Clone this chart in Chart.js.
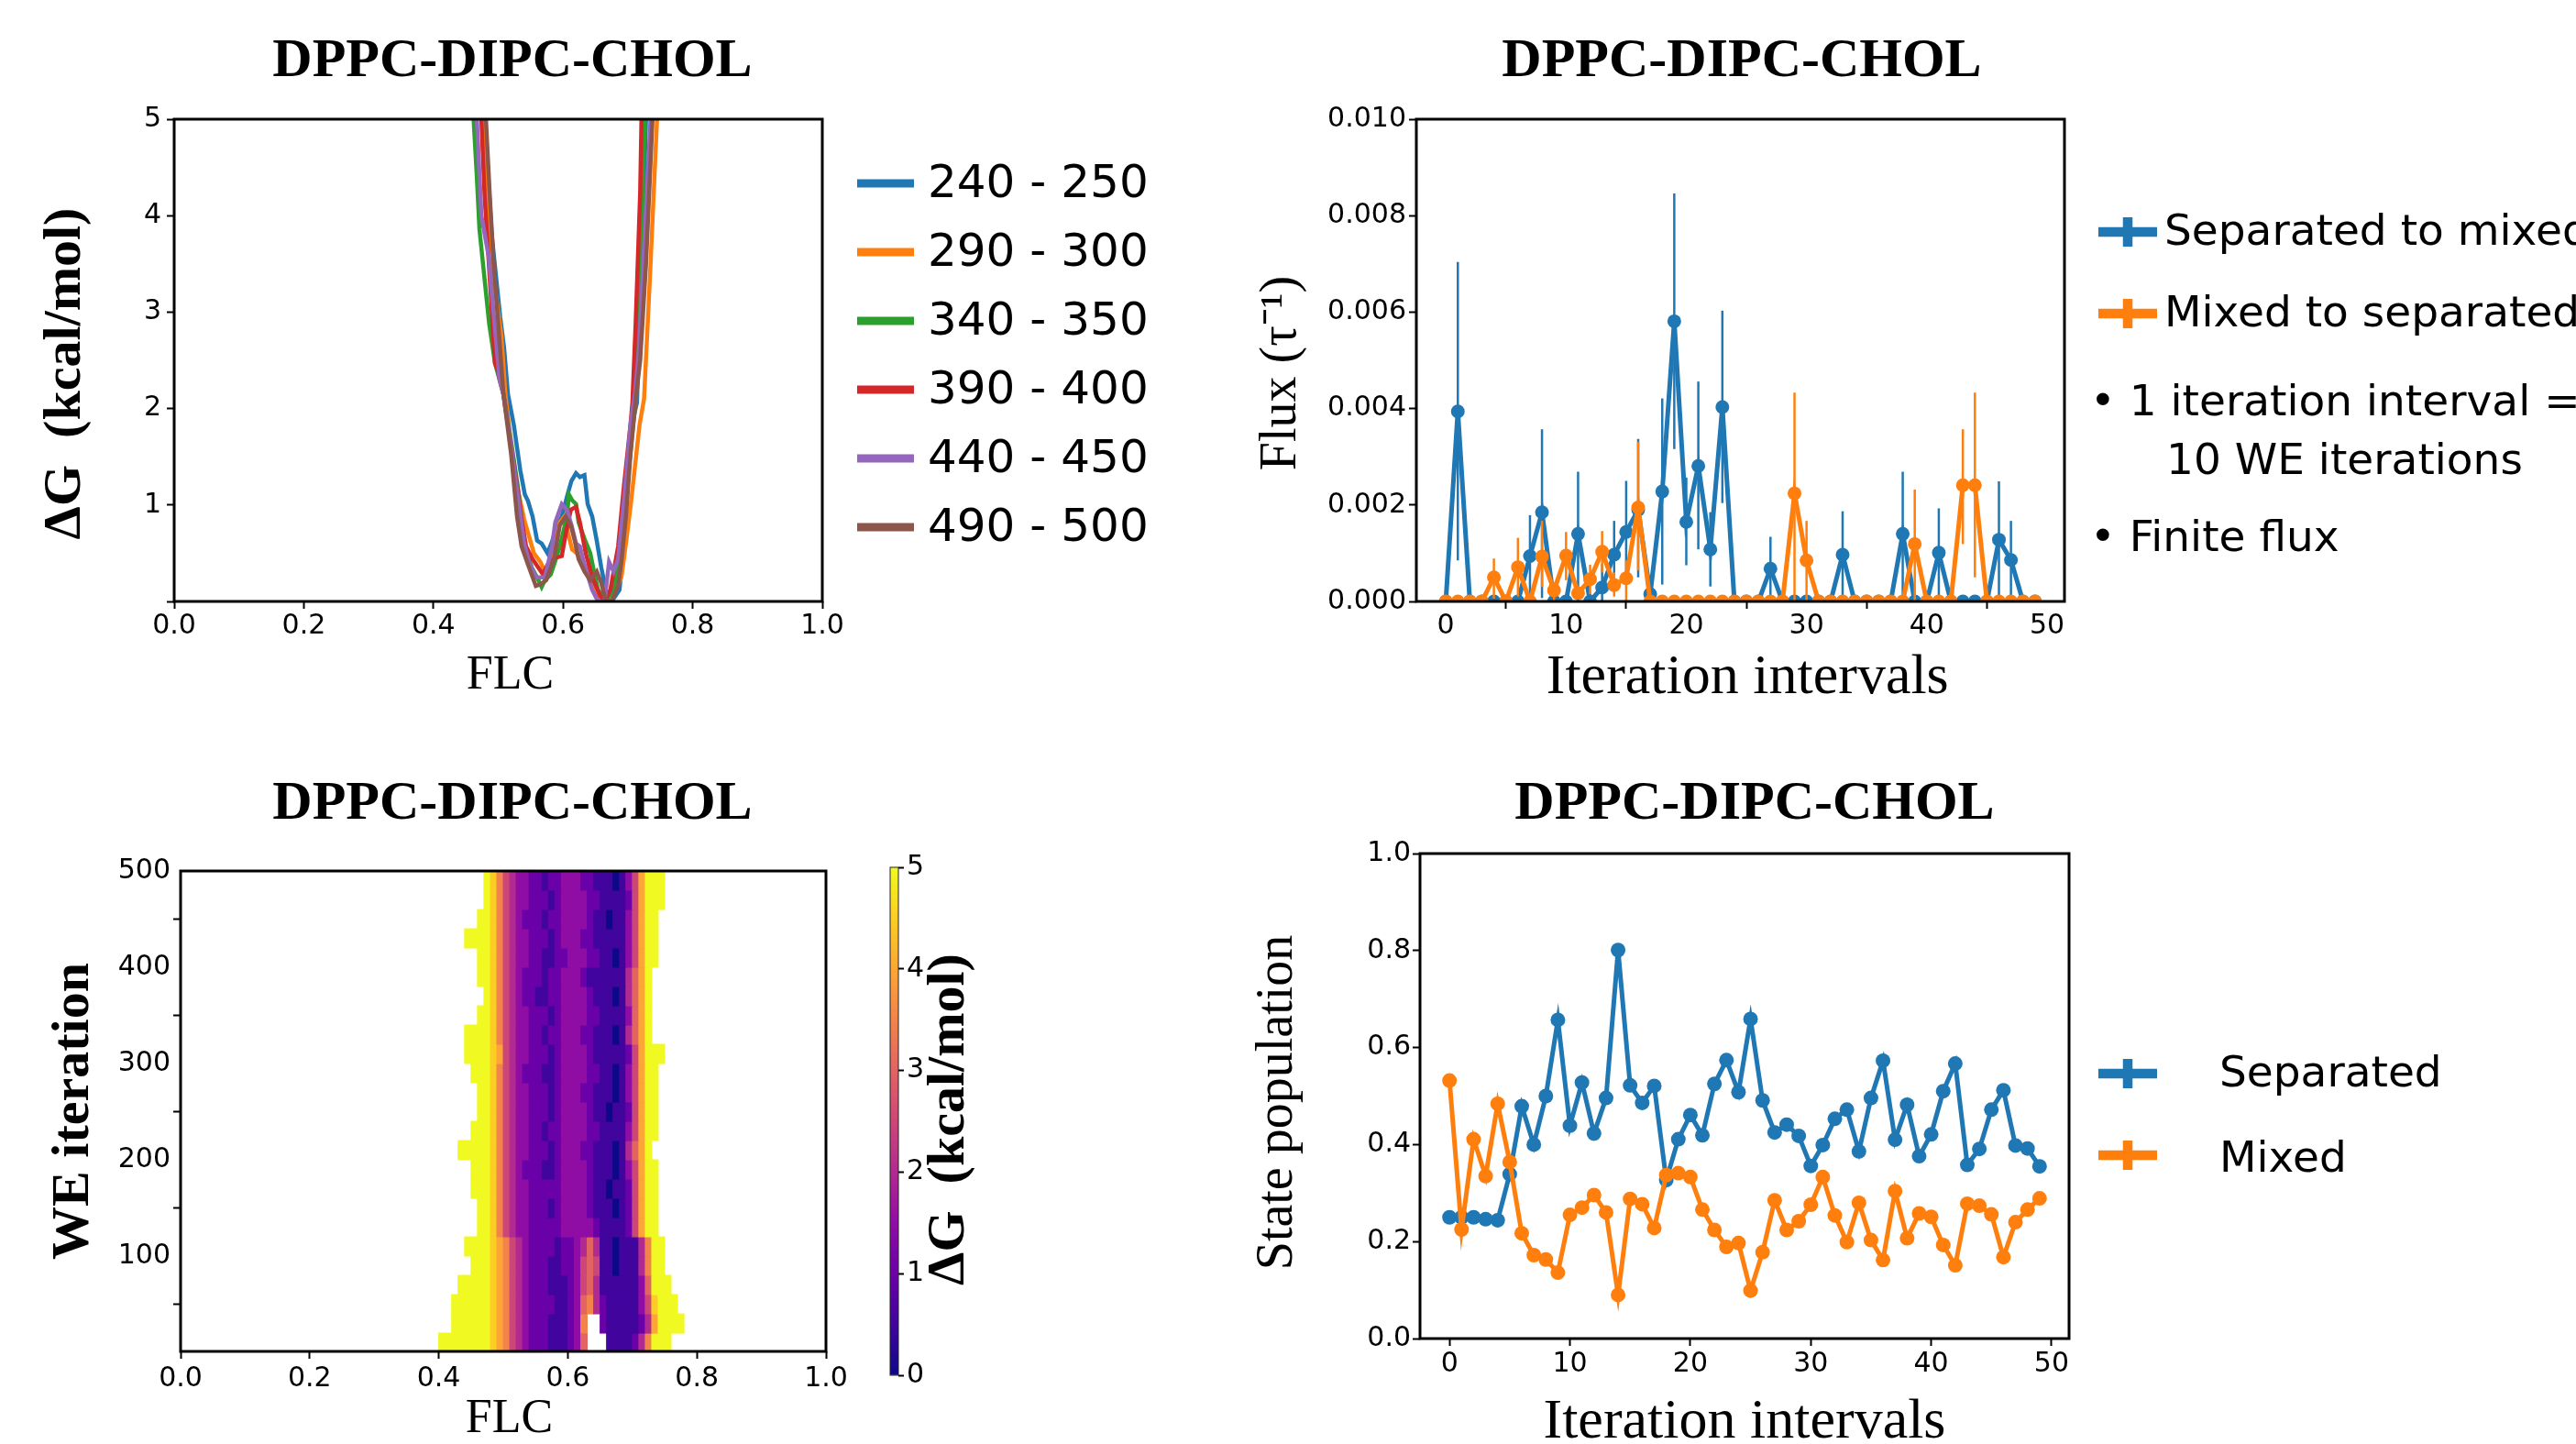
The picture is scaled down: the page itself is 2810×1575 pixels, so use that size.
<!DOCTYPE html>
<html>
<head>
<meta charset="utf-8">
<script src="https://cdn.jsdelivr.net/npm/chart.js@4.4.1/dist/chart.umd.min.js"></script>
<style>
  html, body { margin: 0; padding: 0; background: #fff; }
  body { width: 2810px; height: 1575px; position: relative; overflow: hidden; }
  canvas { position: absolute; }
</style>
</head>
<body>
<canvas id="profile" width="1405" height="787" style="left:0;top:0"></canvas>
<canvas id="flux" width="1510" height="787" style="left:1300px;top:0"></canvas>
<canvas id="heat" width="940" height="820" style="left:0;top:787px"></canvas>
<canvas id="cbar" width="320" height="820" style="left:900px;top:787px"></canvas>
<canvas id="pop" width="1510" height="820" style="left:1300px;top:787px"></canvas>
<script>
const figTitle = 'DPPC-DIPC-CHOL';

// free energy profiles, one curve per WE iteration window
const windowLabels = ['240 - 250', '290 - 300', '340 - 350', '390 - 400', '440 - 450', '490 - 500'];
const flc240 = [0.479, 0.490, 0.503, 0.509, 0.515, 0.524, 0.534, 0.541, 0.546, 0.553, 0.560, 0.567, 0.576, 0.583, 0.591, 0.598, 0.607, 0.613, 0.620, 0.626, 0.633, 0.638, 0.645, 0.652, 0.659, 0.666, 0.675, 0.687, 0.694, 0.699, 0.706, 0.714, 0.721, 0.728];
const dg240 = [5.0, 3.80, 2.95, 2.63, 2.15, 1.83, 1.36, 1.11, 1.04, 0.88, 0.63, 0.60, 0.50, 0.62, 0.79, 0.88, 1.11, 1.25, 1.33, 1.29, 1.31, 1.01, 0.88, 0.63, 0.35, 0.12, 0.0, 0.12, 0.57, 1.20, 1.83, 2.06, 3.40, 5.0];
const flc290 = [0.476, 0.483, 0.490, 0.498, 0.505, 0.511, 0.520, 0.529, 0.540, 0.555, 0.565, 0.572, 0.579, 0.586, 0.595, 0.602, 0.608, 0.614, 0.621, 0.633, 0.647, 0.659, 0.673, 0.690, 0.697, 0.704, 0.711, 0.718, 0.725, 0.735, 0.745];
const dg290 = [5.0, 4.2, 3.5, 3.1, 2.75, 2.15, 1.6, 1.2, 0.85, 0.50, 0.41, 0.31, 0.40, 0.57, 0.82, 0.88, 0.70, 0.54, 0.50, 0.38, 0.19, 0.0, 0.0, 0.25, 0.60, 0.98, 1.40, 1.83, 2.10, 3.50, 5.0];
const flc340 = [0.462, 0.467, 0.471, 0.478, 0.486, 0.495, 0.508, 0.520, 0.530, 0.541, 0.552, 0.562, 0.567, 0.572, 0.581, 0.588, 0.595, 0.606, 0.609, 0.614, 0.620, 0.624, 0.633, 0.642, 0.648, 0.654, 0.666, 0.678, 0.690, 0.699, 0.708, 0.712, 0.719, 0.726];
const dg340 = [5.0, 4.4, 3.86, 3.4, 2.88, 2.47, 2.15, 1.65, 1.2, 0.57, 0.35, 0.22, 0.15, 0.22, 0.28, 0.42, 0.57, 0.88, 1.11, 1.05, 1.01, 0.82, 0.65, 0.50, 0.30, 0.12, 0.0, 0.12, 0.57, 1.2, 1.83, 2.06, 3.2, 5.0];
const flc390 = [0.474, 0.479, 0.486, 0.495, 0.499, 0.508, 0.518, 0.529, 0.536, 0.543, 0.552, 0.562, 0.569, 0.576, 0.587, 0.598, 0.605, 0.612, 0.620, 0.626, 0.635, 0.645, 0.657, 0.664, 0.673, 0.685, 0.694, 0.704, 0.707, 0.712, 0.719, 0.721];
const dg390 = [5.0, 4.2, 3.45, 2.47, 2.4, 2.15, 1.7, 1.2, 0.85, 0.57, 0.45, 0.35, 0.28, 0.38, 0.45, 0.47, 0.73, 0.95, 0.98, 0.82, 0.50, 0.25, 0.06, 0.0, 0.12, 0.57, 1.2, 1.83, 2.06, 2.88, 4.24, 5.0];
const flc440 = [0.467, 0.474, 0.486, 0.490, 0.502, 0.508, 0.520, 0.530, 0.540, 0.548, 0.558, 0.572, 0.583, 0.588, 0.598, 0.606, 0.613, 0.620, 0.626, 0.633, 0.645, 0.654, 0.664, 0.671, 0.678, 0.685, 0.694, 0.704, 0.711, 0.717, 0.735];
const dg440 = [5.0, 4.0, 3.55, 3.2, 2.3, 2.15, 1.6, 1.1, 0.6, 0.4, 0.25, 0.25, 0.57, 0.82, 1.01, 0.95, 0.79, 0.60, 0.57, 0.38, 0.12, 0.0, 0.0, 0.41, 0.31, 0.44, 1.04, 1.83, 2.15, 2.6, 5.0];
const flc490 = [0.481, 0.487, 0.493, 0.500, 0.508, 0.520, 0.529, 0.536, 0.546, 0.558, 0.566, 0.574, 0.586, 0.595, 0.604, 0.612, 0.618, 0.624, 0.633, 0.642, 0.652, 0.659, 0.666, 0.675, 0.685, 0.690, 0.697, 0.704, 0.713, 0.719, 0.728, 0.738];
const dg490 = [5.0, 4.2, 3.5, 2.88, 2.15, 1.52, 0.88, 0.57, 0.38, 0.16, 0.18, 0.22, 0.44, 0.79, 0.88, 0.79, 0.63, 0.44, 0.31, 0.22, 0.31, 0.19, 0.0, 0.0, 0.16, 0.41, 0.88, 1.52, 2.15, 2.5, 3.5, 5.0];

// flux between states per iteration interval, with error bar ends
const intervals = [0, 1, 2, 3, 4, 5, 6, 7, 8, 9, 10, 11, 12, 13, 14, 15, 16, 17, 18, 19, 20, 21, 22, 23, 24,
  25, 26, 27, 28, 29, 30, 31, 32, 33, 34, 35, 36, 37, 38, 39, 40, 41, 42, 43, 44, 45, 46, 47, 48, 49];
const fluxLegend = ['Separated to mixed', 'Mixed to separated'];
const fluxSepToMix = [0, 0.00394, 0, 0, 0, 0, 0, 0.00094, 0.00185, 0,
  0, 0.00140, 0, 0.00029, 0.00097, 0.00144, 0.00190, 0.00015, 0.00228, 0.00581,
  0.00165, 0.00281, 0.00108, 0.00403, 0, 0, 0, 0.00068, 0, 0,
  0, 0, 0, 0.00097, 0, 0, 0, 0, 0.00140, 0,
  0, 0.00101, 0, 0, 0, 0, 0.00128, 0.00086, 0, 0];
const sepToMixLo = [null, 0.00085, null, null, null, null, null, 0.00010, 0.00007, null,
  null, 0, null, 0, 0.00020, 0.00040, 0.00050, null, 0.00035, 0.00316,
  0.00075, 0.00108, 0.00031, 0.00204, null, null, null, 0, null, null,
  null, null, null, 0, null, null, null, null, 0, null,
  null, 0, null, null, null, null, 0, 0, null, null];
const sepToMixHi = [null, 0.00704, null, null, null, null, null, 0.00179, 0.00357, null,
  null, 0.00269, null, 0.00078, 0.00167, 0.00250, 0.00337, null, 0.00421, 0.00846,
  0.00257, 0.00456, 0.00185, 0.00603, null, null, null, 0.00134, null, null,
  null, null, null, 0.00187, null, null, null, null, 0.00269, null,
  null, 0.00193, null, null, null, null, 0.00249, 0.00167, null, null];
const fluxMixToSep = [0, 0, 0, 0, 0.00050, 0, 0.00071, 0, 0.00093, 0.00023,
  0.00095, 0.00017, 0.00046, 0.00103, 0.00034, 0.00048, 0.00195, 0, 0, 0,
  0, 0, 0, 0, 0, 0, 0, 0, 0, 0.00224,
  0.00085, 0, 0, 0, 0, 0, 0, 0, 0, 0.00119,
  0, 0, 0, 0.00241, 0.00241, 0, 0, 0, 0, 0];
const mixToSepLo = [null, null, null, null, 0.00006, null, 0.00010, null, 0.00030, 0,
  0.00044, null, 0.00015, 0.00060, 0.00010, 0, 0.00064, null, null, null,
  null, null, null, null, null, null, null, null, null, 0,
  0, null, null, null, null, null, null, null, null, 0,
  null, null, null, 0.00119, 0.00050, null, null, null, null, null];
const mixToSepHi = [null, null, null, null, 0.00089, null, 0.00132, null, 0.00167, 0.00040,
  0.00144, null, 0.00076, 0.00146, 0.00060, 0.00085, 0.00331, null, null, null,
  null, null, null, null, null, null, null, null, null, 0.00433,
  0.00167, null, null, null, null, null, null, null, null, 0.00232,
  null, null, null, 0.00357, 0.00433, null, null, null, null, null];
const fluxNotes = ['\u2022 1 iteration interval =', '10 WE iterations', '\u2022 Finite flux'];

// state populations per iteration interval
const popLegend = ['Separated', 'Mixed'];
const popSeparated = [0.250, 0.250, 0.250, 0.246, 0.244, 0.339, 0.479, 0.400, 0.500, 0.657,
  0.439, 0.528, 0.423, 0.496, 0.801, 0.522, 0.486, 0.521, 0.327, 0.411,
  0.461, 0.419, 0.525, 0.574, 0.508, 0.659, 0.491, 0.425, 0.441, 0.418,
  0.356, 0.399, 0.453, 0.472, 0.386, 0.496, 0.573, 0.410, 0.482, 0.376,
  0.421, 0.510, 0.567, 0.358, 0.391, 0.472, 0.512, 0.398, 0.392, 0.355];
const popMixed = [0.532, 0.225, 0.411, 0.335, 0.484, 0.364, 0.217, 0.172, 0.163, 0.136,
  0.255, 0.270, 0.296, 0.260, 0.090, 0.288, 0.277, 0.228, 0.337, 0.341,
  0.333, 0.266, 0.224, 0.189, 0.197, 0.099, 0.178, 0.285, 0.224, 0.242,
  0.276, 0.333, 0.254, 0.199, 0.280, 0.203, 0.162, 0.304, 0.207, 0.258,
  0.251, 0.193, 0.151, 0.278, 0.274, 0.256, 0.168, 0.240, 0.266, 0.289];

// dG map: rows of 20 WE iterations (bottom first), columns of 0.01 FLC from 0.39
// '.' = no sampling, digit d = d*0.5 kcal/mol, 'X' = 5 or more
const flcBinStart = 0.39;
const flcBinWidth = 0.01;
const iterBinStart = [0, 20, 40, 60, 80, 100, 120, 140, 160, 180, 200, 220, 240,
  260, 280, 300, 320, 340, 360, 380, 400, 420, 440, 460, 480];
const iterBinWidth = 20;
const dgRows = [
  '.XXXXXXXX9 8754322211 1236...111 1247XXX...',
  '...XXXXXX9 8754322211 1237..2111 11248XXXX.',
  '...XXXXXX9 8754322221 1236742111 11359XXX..',
  '....XXXXX9 8754322211 1235641111 1136XXX...',
  '......XXX9 8754322211 2235651101 1147XX....',
  '.....XXXX9 8754322221 2234641101 1147XX....',
  '.......XX9 7543322222 3333321111 258XX.....',
  '.......XX9 7543322212 3333211101 258XX.....',
  '......XXX9 7543322222 3333211011 258XX.....',
  '......XXX9 7543222112 3333211101 358XX.....',
  '....XXXXX9 7543322212 3332211101 468X......',
  '......XXX9 7543322122 3333221111 358XX.....',
  '.......XX9 7543322212 3333211011 258XX.....',
  '.......XX9 7543322212 3332211101 358XX.....',
  '......XXX9 7543222112 3333221101 358XX.....',
  '.....XXXX9 8543322212 3333211111 258XXX....',
  '.....XXXX9 7543322122 3332211101 468X......',
  '.......XX9 7543322212 3333221111 368X......',
  '........X9 7543221122 3333211101 468X......',
  '.......XX9 7543222122 3332111111 468X......',
  '.......XX9 7543322112 2333221101 358XX.....',
  '.....XXXX9 7543322212 3332211111 358XX.....',
  '.......XX9 7543222122 3333211011 358XX.....',
  '........X9 7543322212 3333221111 258XXX....',
  '........X9 7543322122 3332211101 358XXX....'
];
const dgRange = [0, 5];

// tick values
const flcTicks = [0, 0.2, 0.4, 0.6, 0.8, 1.0];
const dgTicks = [0, 1, 2, 3, 4, 5];
const intervalTicks = [0, 10, 20, 30, 40, 50];
const fluxTicks = [0, 0.002, 0.004, 0.006, 0.008, 0.010];
const popTicks = [0, 0.2, 0.4, 0.6, 0.8, 1.0];
const iterTicks = [100, 200, 300, 400, 500];

const tab = ['#1f77b4', '#ff7f0e', '#2ca02c', '#d62728', '#9467bd', '#8c564b'];
const sans = 'DejaVu Sans';
const serif = 'Liberation Serif';
Chart.defaults.font.family = sans;

const plasmaStops = [[13, 8, 135], [65, 4, 157], [106, 0, 168], [143, 13, 164], [177, 42, 144], [204, 71, 120],
  [225, 100, 98], [242, 132, 75], [252, 166, 54], [252, 206, 37], [240, 249, 33]];
function plasma(t) {
  t = Math.max(0, Math.min(1, t));
  const s = t * 10, i = Math.min(9, Math.floor(s)), f = s - i;
  const a = plasmaStops[i], b = plasmaStops[i + 1];
  return 'rgb(' + a.map((v, k) => Math.round(v + (b[k] - v) * f)).join(',') + ')';
}

function axis(o) {
  return {
    type: 'linear', min: o.min, max: o.max, offset: false,
    afterBuildTicks: s => { s.ticks = o.ticks.map(v => ({ value: v })); },
    afterFit: s => {
      if (s.isHorizontal()) s.height = o.size; else s.width = o.size;
      s.paddingLeft = s.paddingRight = s.paddingTop = s.paddingBottom = 0;
    },
    grid: { drawOnChartArea: false, drawTicks: true, tickLength: o.tick || 8, tickWidth: 2, tickColor: '#000' },
    border: { display: false },
    ticks: { color: '#000', font: { family: sans, size: 30 }, padding: o.pad, maxRotation: 0, autoSkip: false, callback: o.fmt },
    title: {
      display: !!o.title, text: o.title, color: '#000', padding: 0,
      font: { family: serif, size: o.titleSize, weight: o.bold ? 'bold' : 'normal', lineHeight: 1 }
    }
  };
}

const base = {
  responsive: false, animation: false, events: [], devicePixelRatio: 1,
  plugins: { legend: { display: false }, tooltip: { enabled: false } }
};

const frame = {
  id: 'frame',
  afterDatasetsDraw(chart) {
    const { ctx, chartArea: a } = chart;
    ctx.save();
    ctx.strokeStyle = '#000';
    ctx.lineWidth = 3;
    ctx.strokeRect(a.left, a.top, a.right - a.left, a.bottom - a.top);
    ctx.restore();
  }
};

function overlay(draw) {
  return { id: 'overlay', afterDraw(chart) { const ctx = chart.ctx; ctx.save(); draw(ctx); ctx.restore(); } };
}

function drawTitle(ctx, x, y) {
  ctx.font = 'bold 60px "' + serif + '"';
  ctx.fillStyle = '#000';
  ctx.textAlign = 'center';
  ctx.textBaseline = 'alphabetic';
  ctx.fillText(figTitle, x, y);
}

function drawCross(ctx, color, x0, x1, y) {
  ctx.fillStyle = color;
  ctx.fillRect(x0, y - 5.25, x1 - x0, 10.5);
  ctx.fillRect((x0 + x1) / 2 - 5.25, y - 16, 10.5, 32);
}

function legendText(ctx, size) {
  ctx.font = size + 'px "' + sans + '"';
  ctx.fillStyle = '#000';
  ctx.textAlign = 'left';
  ctx.textBaseline = 'alphabetic';
}

// ---- top left: free energy profiles
const profiles = [[flc240, dg240], [flc290, dg290], [flc340, dg340], [flc390, dg390], [flc440, dg440], [flc490, dg490]];
new Chart(document.getElementById('profile'), {
  type: 'line',
  data: {
    datasets: profiles.map(([xs, ys], i) => ({
      label: windowLabels[i],
      data: xs.map((x, k) => ({ x: x, y: ys[k] })),
      borderColor: tab[i], borderWidth: 4.5, pointRadius: 0, tension: 0, fill: false, order: 6 - i
    }))
  },
  options: Object.assign({}, base, {
    layout: { padding: { left: 43, right: 508, top: 130, bottom: 24 } },
    scales: {
      x: axis({ min: 0, max: 1, ticks: flcTicks, fmt: v => v.toFixed(1), size: 107, pad: 1, title: '  FLC', titleSize: 52 }),
      y: axis({ min: 0, max: 5, ticks: dgTicks, fmt: v => (v === 0 ? '' : String(v)), size: 147, pad: 6, title: '\u0394G  (kcal/mol)  ', titleSize: 58, bold: true })
    }
  }),
  plugins: [frame, overlay(ctx => {
    drawTitle(ctx, 559, 83);
    const rows = [200, 275, 350, 425, 500, 575];
    windowLabels.forEach((lab, i) => {
      ctx.strokeStyle = tab[i];
      ctx.lineWidth = 9;
      ctx.beginPath();
      ctx.moveTo(935, rows[i]);
      ctx.lineTo(997, rows[i]);
      ctx.stroke();
      legendText(ctx, 50);
      ctx.textBaseline = 'middle';
      ctx.fillText(lab, 1012, rows[i] + 2);
    });
  })]
});

// ---- top right: flux
const errBars = (lo, hi) => intervals.flatMap((x, i) => (lo[i] === null ? [] : [{ x: x, y: [lo[i], hi[i]] }]));
const points = ys => intervals.map((x, i) => ({ x: x, y: ys[i] }));
const lineSet = (label, ys, color, order, r) => ({
  type: 'line', label: label, data: points(ys), borderColor: color, backgroundColor: color,
  borderWidth: 5, pointRadius: r, pointBorderWidth: 0, tension: 0, order: order
});
const barSet = (lo, hi, color, order) => ({
  type: 'bar', data: errBars(lo, hi), backgroundColor: color, grouped: false, maxBarThickness: 2.5, borderWidth: 0, order: order
});
new Chart(document.getElementById('flux'), {
  type: 'line',
  data: {
    datasets: [
      barSet(sepToMixLo, sepToMixHi, tab[0], 4),
      lineSet(fluxLegend[0], fluxSepToMix, tab[0], 3, 7.5),
      barSet(mixToSepLo, mixToSepHi, tab[1], 2),
      lineSet(fluxLegend[1], fluxMixToSep, tab[1], 1, 7.5)
    ]
  },
  options: Object.assign({}, base, {
    layout: { padding: { left: 70, right: 558, top: 130, bottom: 16 } },
    scales: {
      x: axis({ min: -2.45, max: 51.45, ticks: intervalTicks, fmt: v => String(v), size: 115, pad: 1, title: ' Iteration intervals', titleSize: 62 }),
      y: axis({ min: 0, max: 0.010, ticks: fluxTicks, fmt: v => v.toFixed(3), size: 175, pad: 3, title: 'Flux (\u03c4\u207b\u00b9)  ', titleSize: 56 })
    }
  }),
  plugins: [frame, overlay(ctx => {
    drawTitle(ctx, 600, 83);
    drawCross(ctx, tab[0], 989, 1053, 253);
    drawCross(ctx, tab[1], 989, 1053, 342);
    legendText(ctx, 47);
    ctx.fillText(fluxLegend[0], 1061, 267);
    ctx.fillText(fluxLegend[1], 1061, 356);
    ctx.fillText(fluxNotes[0], 980, 453);
    ctx.fillText(fluxNotes[1], 1063, 517);
    ctx.fillText(fluxNotes[2], 980, 601);
  })]
});

// ---- bottom left: dG map over WE iterations
const heatCells = [];
dgRows.forEach((row, r) => {
  row.replace(/ /g, '').split('').forEach((ch, c) => {
    if (ch === '.') return;
    const x0 = flcBinStart + c * flcBinWidth;
    heatCells.push({ y: iterBinStart[r] + iterBinWidth / 2, x: [x0, x0 + flcBinWidth], v: ch === 'X' ? 5 : Number(ch) * 0.5 });
  });
});
new Chart(document.getElementById('heat'), {
  type: 'bar',
  data: {
    datasets: [{
      data: heatCells,
      backgroundColor: c => (c.raw ? plasma((c.raw.v - dgRange[0]) / (dgRange[1] - dgRange[0])) : '#000'),
      borderWidth: 0, barPercentage: 1, categoryPercentage: 1, inflateAmount: 0.5
    }]
  },
  options: Object.assign({}, base, {
    indexAxis: 'y',
    layout: { padding: { left: 52, right: 39, top: 163, bottom: 33 } },
    scales: {
      x: axis({ min: 0, max: 1, ticks: flcTicks, fmt: v => v.toFixed(1), size: 100, pad: 4, title: ' FLC', titleSize: 52 }),
      y: axis({ min: 1, max: 500, ticks: iterTicks, fmt: v => String(v), size: 145, pad: 3, title: 'WE iteration', titleSize: 58, bold: true })
    }
  }),
  plugins: [frame, overlay(ctx => drawTitle(ctx, 559, 106))]
});

// colour bar for the map
const cbAxis = axis({ min: dgRange[0], max: dgRange[1], ticks: dgTicks, fmt: v => String(v), size: 240, pad: 3, tick: 6 });
cbAxis.position = 'right';
new Chart(document.getElementById('cbar'), {
  type: 'bar',
  data: {
    labels: [''],
    datasets: [{
      data: [dgRange],
      backgroundColor: c => {
        const a = c.chart.chartArea;
        if (!a) return '#000';
        const g = c.chart.ctx.createLinearGradient(0, a.bottom, 0, a.top);
        plasmaStops.forEach((s, i) => g.addColorStop(i / 10, 'rgb(' + s.join(',') + ')'));
        return g;
      },
      borderWidth: 0, barPercentage: 1, categoryPercentage: 1
    }]
  },
  options: Object.assign({}, base, {
    layout: { padding: { left: 71, right: 0, top: 159, bottom: 107 } },
    scales: { x: { display: false }, y: cbAxis }
  }),
  plugins: [{
    id: 'cbframe',
    afterDatasetsDraw(chart) {
      const { ctx, chartArea: a } = chart;
      ctx.save();
      ctx.strokeStyle = '#222';
      ctx.lineWidth = 1;
      ctx.strokeRect(a.left, a.top, a.right - a.left, a.bottom - a.top);
      ctx.restore();
    }
  }, overlay(ctx => {
    ctx.translate(136, 434);
    ctx.rotate(-Math.PI / 2);
    ctx.font = 'bold 58px "' + serif + '"';
    ctx.fillStyle = '#000';
    ctx.textAlign = 'center';
    ctx.textBaseline = 'middle';
    ctx.fillText('\u0394G  (kcal/mol)', 0, 0);
  })]
});

// ---- bottom right: state populations
new Chart(document.getElementById('pop'), {
  type: 'line',
  data: {
    datasets: [
      lineSet(popLegend[0], popSeparated, tab[0], 2, 8),
      lineSet(popLegend[1], popMixed, tab[1], 1, 8)
    ]
  },
  options: Object.assign({}, base, {
    layout: { padding: { left: 66, right: 553, top: 144, bottom: 24 } },
    scales: {
      x: axis({ min: -2.45, max: 51.45, ticks: intervalTicks, fmt: v => String(v), size: 123, pad: 2, title: 'Iteration intervals', titleSize: 62 }),
      y: axis({ min: 0, max: 1, ticks: popTicks, fmt: v => v.toFixed(1), size: 183, pad: 2, title: 'State population ', titleSize: 56 })
    }
  }),
  plugins: [frame, overlay(ctx => {
    drawTitle(ctx, 614, 106);
    drawCross(ctx, tab[0], 989, 1053, 384);
    drawCross(ctx, tab[1], 989, 1053, 473);
    legendText(ctx, 47);
    ctx.fillText(popLegend[0], 1121, 398);
    ctx.fillText(popLegend[1], 1121, 491);
  })]
});
</script>
</body>
</html>
